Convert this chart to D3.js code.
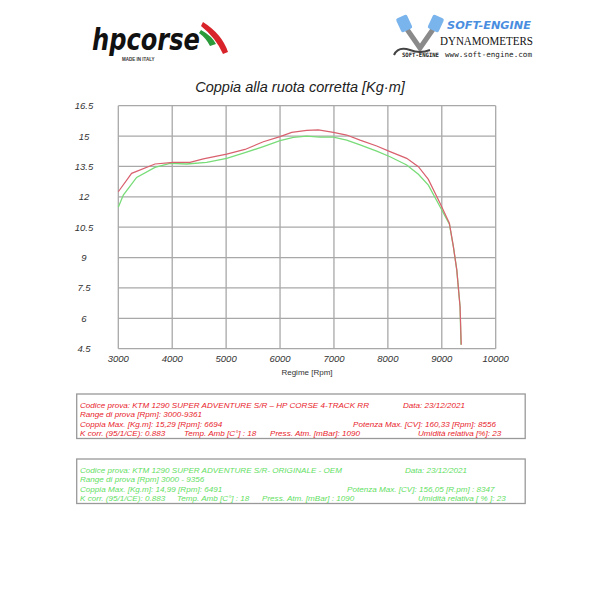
<!DOCTYPE html>
<html><head><meta charset="utf-8">
<script src="https://cdn.jsdelivr.net/npm/d3@7"></script>
<style>body{margin:0;background:#fff}svg{display:block}</style>
</head><body>
<svg id="c" width="600" height="600"></svg>
<script>
// ---- data ----
const xTicks = [3000,4000,5000,6000,7000,8000,9000,10000];
const yTicks = [4.5,6,7.5,9,10.5,12,13.5,15,16.5];
const yTickLabels = ["4.5","6","7.5","9","10.5","12","13.5","15","16.5"];
const hpRpm = [3000,3247,3680,4020,4330,4577,5010,5350,5690,6000,6216,6494,6711,6989,7236,7484,7793,8040,8349,8566,8751,8968,9141,9215,9278,9339,9361];
const hpTorque = [12.25,13.16,13.62,13.70,13.70,13.87,14.11,14.34,14.72,14.97,15.18,15.28,15.31,15.18,15.05,14.80,14.51,14.23,13.90,13.49,12.86,11.68,10.70,9.54,8.39,6.57,4.7];
const oemRpm = [3000,3093,3340,3680,3958,4268,4639,5010,5350,5690,6000,6247,6494,6741,6989,7236,7484,7793,8040,8349,8566,8751,8968,9141,9215,9278,9339,9356];
const oemTorque = [11.48,12.09,12.96,13.45,13.65,13.62,13.70,13.90,14.18,14.48,14.77,14.94,15.00,14.95,14.95,14.80,14.56,14.26,13.98,13.57,13.11,12.58,11.51,10.65,9.54,8.39,6.57,4.7];
const title = "Coppia alla ruota corretta [Kg\u00b7m]";
const xTitle = "Regime [Rpm]";
const hpInfo = [
  [["Codice prova: KTM 1290  SUPER ADVENTURE S/R \u2013 HP CORSE  4-TRACK RR",80],["Data: 23/12/2021",403]],
  [["Range di prova  [Rpm]: 3000-9361",80]],
  [["Coppia Max. [Kg.m]:  15,29 [Rpm]: 6694",80],["Potenza Max. [CV]:  160,33 [Rpm]: 8556",353]],
  [["K corr. (95/1/CE): 0.883",80],["Temp. Amb  [C\u00b0] : 18",184],["Press. Atm.  [mBar]: 1090",270],["Umidit\u00e0 relativa [%]: 23",418]]
];
const oemInfo = [
  [["Codice prova: KTM 1290 SUPER ADVENTURE S/R- ORIGINALE - OEM",80],["Data: 23/12/2021",405]],
  [["Range di prova [Rpm] 3000 - 9356",80]],
  [["Coppia Max.  [Kg.m]:  14,99  [Rpm]:  6491",80],["Potenza Max. [CV]:  156,05  [R.pm] :  8347",347]],
  [["K corr. (95/1/CE): 0.883",80],["Temp. Amb [C\u00b0] : 18",177],["Press. Atm. [mBar] : 1090",262],["Umidit\u00e0 relativa [ % ]: 23",418]]
];

// ---- chart ----
const svg = d3.select("#c");
const x = d3.scaleLinear().domain([3000,10000]).range([118.3,495.7]);
const y = d3.scaleLinear().domain([4.5,16.5]).range([348.7,105.7]);
const grid = "#a8a8a8";

svg.append("text").attr("x",300).attr("y",92).attr("text-anchor","middle")
  .attr("font-family","Liberation Sans, Arial, sans-serif").attr("font-style","italic")
  .attr("font-size",14.5).attr("fill","#222").text(title);

const g = svg.append("g");
g.selectAll(".vg").data(xTicks).join("line")
  .attr("x1",d=>x(d)).attr("x2",d=>x(d)).attr("y1",y(16.5)).attr("y2",y(4.5))
  .attr("stroke",grid).attr("stroke-width",1.3);
g.selectAll(".hg").data(yTicks).join("line")
  .attr("y1",d=>y(d)).attr("y2",d=>y(d)).attr("x1",x(3000)).attr("x2",x(10000))
  .attr("stroke",grid).attr("stroke-width",1.3);

const axFont = "Liberation Sans, Arial, sans-serif";
g.selectAll(".yl").data(yTicks).join("text")
  .attr("x",84).attr("y",d=>y(d)+3.5).attr("text-anchor","middle")
  .attr("font-family",axFont).attr("font-style","italic").attr("font-size",9.5).attr("fill","#333")
  .text((d,i)=>yTickLabels[i]);
g.selectAll(".xl").data(xTicks).join("text")
  .attr("x",d=>x(d)).attr("y",362).attr("text-anchor","middle")
  .attr("font-family",axFont).attr("font-style","italic").attr("font-size",9.5).attr("fill","#333")
  .text(d=>d);
g.append("text").attr("x",307).attr("y",375).attr("text-anchor","middle")
  .attr("font-family",axFont).attr("font-size",8).attr("fill","#333").text(xTitle);

const line = d3.line().x(d=>x(d[0])).y(d=>y(d[1]));
g.append("path").datum(oemRpm.map((r,i)=>[r,oemTorque[i]])).attr("d",line)
  .attr("fill","none").attr("stroke","#78dc78").attr("stroke-width",1.3);
g.append("path").datum(hpRpm.map((r,i)=>[r,hpTorque[i]])).attr("d",line)
  .attr("fill","none").attr("stroke","#d9606e").attr("stroke-width",1.2);

// ---- info boxes ----
function infoBox(rows, top, color){
  svg.append("rect").attr("x",76.7).attr("y",top).attr("width",448.5).attr("height",44.5)
    .attr("fill","none").attr("stroke","#999").attr("stroke-width",1.3);
  rows.forEach((row,ri)=>{
    row.forEach(([t,xx])=>{
      svg.append("text").attr("x",xx).attr("y",top+14+ri*9.4)
        .attr("font-family","Liberation Sans, Arial, sans-serif")
        .attr("font-style","italic").attr("font-size",8.1).attr("fill",color).text(t);
    });
  });
}
infoBox(hpInfo, 394, "#e8232b");
infoBox(oemInfo, 459, "#5fe05f");

// ---- logos ----
const lg = svg.append("g");
lg.append("text").attr("x",92).attr("y",50).attr("font-family","DejaVu Sans, sans-serif")
  .attr("font-style","italic").attr("font-weight","bold").attr("font-size",30)
  .attr("textLength",108).attr("lengthAdjust","spacingAndGlyphs").attr("fill","#111").text("hpcorse");
lg.append("path").attr("d","M203,22 Q222,34 228,52 L223,54 Q216,38 201,26 Z").attr("fill","#d8232a");
lg.append("path").attr("d","M201,30 Q212,36 216,44 L210,46 Q206,38 199,33 Z").attr("fill","#2a9a3a");
lg.append("text").attr("x",122).attr("y",61).attr("font-family","Liberation Sans, Arial, sans-serif")
  .attr("font-weight","bold").attr("font-size",4.5).attr("fill","#333").text("MADE IN ITALY");

const sg = svg.append("g");
sg.append("path").attr("d","M404,25 L420,48 L436,25").attr("fill","none").attr("stroke","#8a8a8a").attr("stroke-width",5);
sg.append("rect").attr("x",398).attr("y",16).attr("width",12).attr("height",15).attr("rx",2).attr("fill","#7ab4ec").attr("transform","rotate(-25 404 23)");
sg.append("rect").attr("x",430).attr("y",16).attr("width",12).attr("height",15).attr("rx",2).attr("fill","#7ab4ec").attr("transform","rotate(25 436 23)");
sg.append("path").attr("d","M394,55 Q398,46 410,50 Q420,54 430,50").attr("fill","none").attr("stroke","#444").attr("stroke-width",2);
sg.append("text").attr("x",402).attr("y",57).attr("font-family","DejaVu Sans Mono, monospace")
  .attr("font-size",6).attr("font-weight","bold").attr("fill","#222").attr("textLength",37).attr("lengthAdjust","spacingAndGlyphs").text("SOFT-ENGINE");
sg.append("text").attr("x",447).attr("y",29).attr("font-family","DejaVu Sans, sans-serif")
  .attr("font-style","italic").attr("font-weight","bold").attr("font-size",11).attr("fill","#4a8ee0")
  .attr("textLength",84).attr("lengthAdjust","spacingAndGlyphs").text("SOFT-ENGINE");
sg.append("text").attr("x",440).attr("y",44.5).attr("font-family","Liberation Serif, DejaVu Serif, serif")
  .attr("font-size",11.5).attr("fill","#111").attr("textLength",93).attr("lengthAdjust","spacingAndGlyphs").text("DYNAMOMETERS");
sg.append("text").attr("x",445).attr("y",56.5).attr("font-family","DejaVu Sans Mono, monospace")
  .attr("font-size",7.5).attr("fill","#222").attr("textLength",87).attr("lengthAdjust","spacingAndGlyphs").text("www.soft-engine.com");
</script>
</body></html>
